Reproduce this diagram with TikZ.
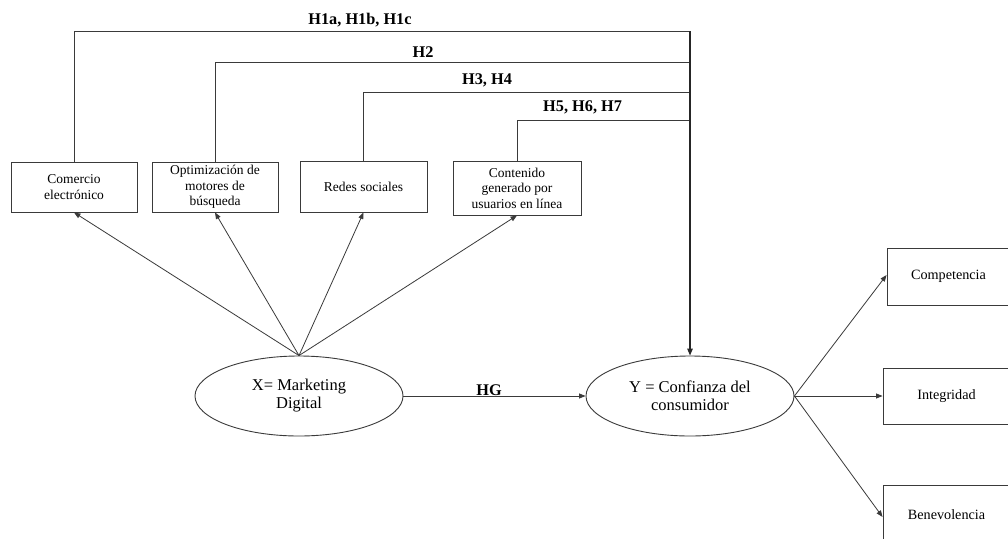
\documentclass[tikz,border=0pt]{standalone}
\usepackage{fontspec}
\setmainfont{Liberation Serif}
\usetikzlibrary{arrows.meta,shapes.geometric}
\definecolor{linec}{HTML}{3A3A3A}
\begin{document}
\begin{tikzpicture}[x=1pt,y=-1pt,
  boxa/.style={draw=linec,line width=0.9pt,align=center,inner sep=1pt,
    font=\fontsize{13.5}{15.5}\selectfont},
  boxr/.style={boxa,font=\fontsize{14.2}{16}\selectfont},
  ovalx/.style={ellipse,draw=linec,line width=0.9pt,align=center,inner sep=0pt,
    minimum width=208,minimum height=80,font=\fontsize{16.5}{18}\selectfont},
  hlab/.style={font=\fontsize{16.3}{18}\selectfont\bfseries,inner sep=0pt},
  conn/.style={draw=linec,line width=0.8pt},
  arr/.style={conn,-{Triangle[length=6.5pt,width=5pt]}},
  mainarr/.style={draw=black!85,line width=1.3pt,-{Triangle[length=7pt,width=5.5pt]}}
]
\useasboundingbox (0,0) rectangle (1008,538);
\fill[white] (0,0) rectangle (1008,538);

% top boxes
\node[boxa,minimum width=126,minimum height=50] (com) at (74,187) {Comercio\\electrónico};
\node[boxa,minimum width=126,minimum height=50] (opt) at (215,187) {Optimización de\\motores de\\búsqueda};
\node[boxa,minimum width=127,minimum height=51] (red) at (363.5,186.5) {Redes sociales};
\node[boxa,minimum width=128,minimum height=54] (con) at (517,188) {Contenido\\generado por\\usuarios en línea};

% ellipses
\node[ovalx] (X) at (299,396) {X= Marketing\\Digital};
\node[ovalx] (Y) at (690,396) {Y = Confianza del\\consumidor};

% right boxes
\node[boxr,minimum width=123,minimum height=57] (comp) at (948.5,276.5) {Competencia};
\node[boxr,minimum width=127,minimum height=56] (integ) at (946.5,396) {Integridad};
\node[boxr,minimum width=127,minimum height=60] (bene) at (946.5,515) {Benevolencia};

% top connectors
\coordinate (t1) at (690,31);
\coordinate (t2) at (690,62);
\coordinate (t3) at (690,92);
\coordinate (t4) at (690,120);
\draw[conn] (com.north) |- (t1);
\draw[conn] (opt.north) |- (t2);
\draw[conn] (red.north) |- (t3);
\draw[conn] (con.north) |- (t4);
\draw[mainarr] (t1) -- (Y.north);

% labels
\node[hlab,anchor=base] (l1) at (360,24) {H1a, H1b, H1c};
\node[hlab,anchor=base] (l2) at (423,57) {H2};
\node[hlab,anchor=base] (l3) at (487,84) {H3, H4};
\node[hlab,anchor=base west] (l4) at (543,111) {H5, H6, H7};

% arrows from X
\draw[arr] (X.north) -- (com.south);
\draw[arr] (X.north) -- (opt.south);
\draw[arr] (X.north) -- (red.south);
\draw[arr] (X.north) -- (con.south);

% HG
\draw[arr] (X.east) -- (Y.west);
\node[hlab,anchor=base] (hg) at (489,395) {HG};

% arrows from Y
\draw[arr] (Y.east) -- ([yshift=1.5pt]comp.west);
\draw[arr] (Y.east) -- (integ.west);
\draw[arr] (Y.east) -- ([yshift=-2pt]bene.west);
\end{tikzpicture}
\end{document}
